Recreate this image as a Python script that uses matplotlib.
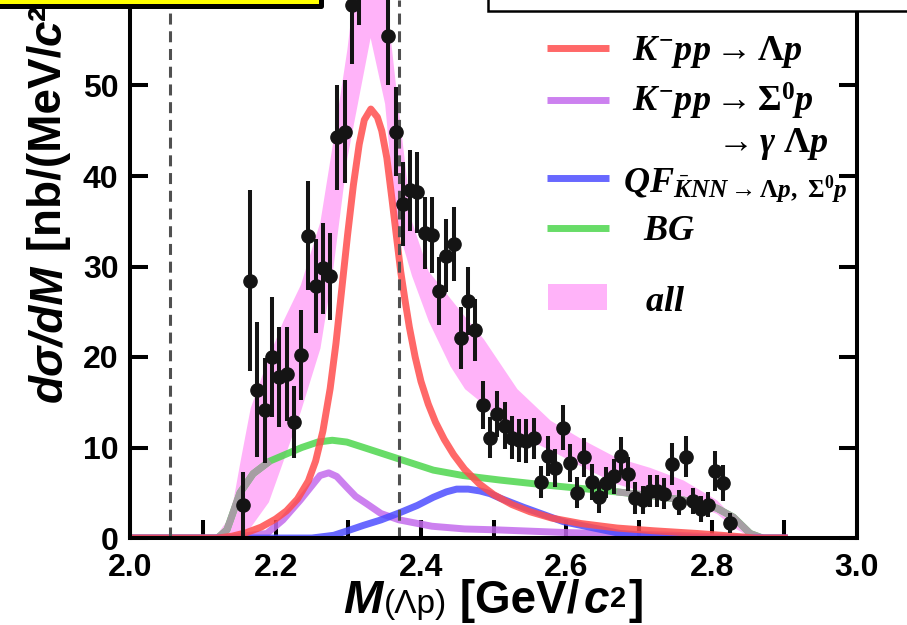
import matplotlib
matplotlib.use("Agg")
import matplotlib.pyplot as plt
import numpy as np
from matplotlib.lines import Line2D
from matplotlib.patches import Rectangle

# ---------------- data ----------------
data_x = [2.155, 2.165, 2.175, 2.185, 2.195, 2.205, 2.215, 2.225, 2.235, 2.245,
          2.255, 2.265, 2.275, 2.285, 2.295, 2.305, 2.315, 2.325, 2.335, 2.345,
          2.355, 2.365, 2.375, 2.385, 2.395, 2.405, 2.415, 2.425, 2.435, 2.445,
          2.455, 2.465, 2.475, 2.485, 2.495, 2.505, 2.515, 2.525, 2.535, 2.545,
          2.555, 2.565, 2.575, 2.585, 2.595, 2.605, 2.615, 2.625, 2.635, 2.645,
          2.655, 2.665, 2.675, 2.685, 2.695, 2.705, 2.715, 2.725, 2.735, 2.745,
          2.755, 2.765, 2.775, 2.785, 2.795, 2.805, 2.815, 2.825]
data_y = [3.7, 28.4, 16.4, 14.1, 20.0, 17.8, 18.1, 12.8, 20.2, 33.4,
          27.8, 29.8, 28.9, 44.3, 44.9, 58.9, 63.2, 68.0, 70.0, 67.0,
          55.5, 44.9, 36.9, 38.4, 38.2, 33.7, 33.5, 27.3, 31.2, 32.5,
          22.1, 26.2, 23.0, 14.7, 11.1, 13.7, 12.4, 11.1, 10.8, 10.7,
          11.0, 6.2, 9.1, 7.7, 12.2, 8.3, 5.0, 8.9, 6.2, 4.5,
          6.1, 6.8, 9.1, 7.1, 4.4, 4.2, 5.2, 5.2, 4.9, 8.2,
          3.9, 9.0, 4.1, 3.2, 3.7, 7.4, 6.1, 1.7]
data_err = [3.6, 10.0, 7.5, 5.8, 6.6, 5.5, 5.2, 4.0, 5.0, 6.0,
            5.2, 5.0, 4.8, 5.8, 5.7, 6.5, 6.5, 6.5, 6.5, 6.3,
            5.5, 4.9, 4.6, 4.5, 4.5, 4.0, 4.2, 3.8, 4.0, 4.1,
            3.4, 3.8, 3.4, 2.7, 2.3, 2.5, 2.6, 2.4, 2.4, 2.4,
            2.3, 1.8, 2.2, 2.1, 2.5, 2.1, 1.7, 2.2, 2.0, 1.7,
            1.7, 1.9, 2.1, 1.9, 1.8, 1.5, 1.8, 1.8, 1.7, 2.3,
            1.4, 2.3, 1.4, 1.4, 1.4, 2.2, 2.0, 1.1]

# K-pp -> Lambda p
red_x = [2.00, 2.12, 2.14, 2.16, 2.18, 2.20, 2.215, 2.23, 2.245, 2.255,
         2.265, 2.275, 2.283, 2.291, 2.299, 2.307, 2.315, 2.322, 2.331, 2.340,
         2.346, 2.353, 2.360, 2.366, 2.372, 2.378, 2.384, 2.392, 2.400, 2.410,
         2.420, 2.432, 2.445, 2.46, 2.48, 2.50, 2.525, 2.55, 2.58, 2.62,
         2.67, 2.72, 2.78, 2.83, 2.86, 2.90]
red_y = [0, 0, 0.2, 0.6, 1.2, 2.1, 3.0, 4.3, 6.3, 8.5,
         11.8, 16.5, 21.5, 27.5, 33.5, 39.0, 43.5, 46.2, 47.4, 46.5,
         45.0, 42.0, 37.5, 33.5, 29.5, 26.3, 23.3, 20.0, 17.3, 14.8,
         12.8, 10.9, 9.2, 7.6, 6.0, 4.8, 3.7, 2.9, 2.2, 1.6,
         1.1, 0.8, 0.5, 0.2, 0, 0]
# K-pp -> Sigma0 p -> gamma Lambda p
purple_x = [2.00, 2.13, 2.188, 2.21, 2.234, 2.252, 2.261, 2.273, 2.284, 2.298,
            2.31, 2.325, 2.345, 2.37, 2.415, 2.46, 2.504, 2.60, 2.75, 2.85, 2.90]
purple_y = [0, 0, 0.5, 2.0, 4.2, 6.0, 6.9, 7.2, 6.8, 5.6,
            4.6, 3.8, 2.7, 2.0, 1.3, 1.0, 0.9, 0.6, 0.3, 0.0, 0]
# QF KbarNN -> Lambda p, Sigma0 p
blue_x = [2.00, 2.25, 2.28, 2.299, 2.321, 2.345, 2.371, 2.395, 2.417, 2.435,
          2.449, 2.465, 2.481, 2.495, 2.509, 2.541, 2.596, 2.674, 2.72, 2.80, 2.90]
blue_y = [0, 0, 0.3, 0.8, 1.4, 2.0, 2.8, 3.6, 4.5, 5.1,
          5.4, 5.4, 5.2, 4.9, 4.4, 3.4, 1.8, 0.5, 0.2, 0, 0]
# BG
green_x = [2.00, 2.12, 2.133, 2.151, 2.169, 2.192, 2.236, 2.258, 2.278, 2.298,
           2.325, 2.371, 2.417, 2.458, 2.509, 2.578, 2.669, 2.715, 2.761, 2.807,
           2.830, 2.853, 2.87, 2.90]
green_y = [0, 0, 0.9, 5.0, 7.1, 8.5, 10.0, 10.6, 10.8, 10.6,
           9.9, 8.7, 7.5, 6.9, 6.4, 5.8, 5.1, 4.7, 4.2, 3.3,
           2.3, 0.5, 0, 0]
# all (band)
band_x = [2.115, 2.133, 2.142, 2.151, 2.165, 2.19, 2.21, 2.234, 2.261, 2.279,
          2.298, 2.31, 2.33, 2.35, 2.365, 2.387, 2.41, 2.44, 2.46, 2.486,
          2.532, 2.578, 2.624, 2.669, 2.715, 2.761, 2.807, 2.83, 2.855]
band_hi = [0, 2.0, 4.5, 8.5, 14.4, 20, 24, 28, 35, 44,
           54, 62, 66, 61, 50, 35, 29.5, 26.5, 24.5, 22,
           16.5, 13, 10.8, 8.9, 7.8, 6.4, 4.2, 2.3, 0]
band_lo = [0, 0, 0, 0.3, 1.2, 4.0, 8.5, 14, 21, 30,
           42, 47, 55.3, 48, 35, 29, 24, 19, 16.5, 14.8,
           11.5, 9.7, 7.8, 6.0, 4.9, 4.2, 2.7, 1.2, 0]
thresholds = [2.054, 2.370]

x_ticks = [2.0, 2.2, 2.4, 2.6, 2.8, 3.0]
x_minor = [2.1, 2.3, 2.5, 2.7, 2.9]
y_ticks = [0, 10, 20, 30, 40, 50]

# ---------------- style ----------------
plt.rcParams['mathtext.fontset'] = 'custom'
plt.rcParams['mathtext.rm'] = 'Liberation Serif:bold'
plt.rcParams['mathtext.it'] = 'Liberation Serif:italic:bold'
plt.rcParams['mathtext.bf'] = 'Liberation Serif:bold'

W, H = 907, 625
fig = plt.figure(figsize=(W / 100, H / 100), dpi=100)

def fx(px):
    return px / W

def fy(py):
    return 1 - py / H

ax = fig.add_axes([fx(130.3), fy(538), (857 - 130.3) / W, 538 / H])
ax.set_xlim(2.0, 3.0)
ax.set_ylim(0, 538 / 9.05)

C_RED = (1.0, 0.30, 0.30)
C_PUR = (0.77, 0.42, 0.93)
C_BLU = (0.30, 0.30, 1.0)
C_GRN = (0.30, 0.84, 0.30)
C_PINK = '#ffb3f9'
C_GRAY = '#a59ea3'
LW = 5.0
A = 0.85

ax.fill_between(band_x, band_lo, band_hi, color=C_PINK, lw=0, zorder=1)

gx = np.array(green_x)
gy = np.array(green_y)
ax.plot(gx, gy, color=C_GRN, lw=LW, alpha=A, zorder=2, solid_capstyle='butt')
m1 = (gx >= 2.12) & (gx <= 2.20)
m2 = (gx >= 2.669) & (gx <= 2.87)
ax.plot(gx[m1], gy[m1], color=C_GRAY, lw=LW, zorder=2.1, solid_capstyle='butt')
ax.plot(gx[m2], gy[m2], color=C_GRAY, lw=LW, zorder=2.1, solid_capstyle='butt')
ax.plot(purple_x, purple_y, color=C_PUR, lw=LW, alpha=A, zorder=2.2)
ax.plot(blue_x, blue_y, color=C_BLU, lw=LW, alpha=A, zorder=2.3)
ax.plot(red_x, red_y, color=C_RED, lw=LW, alpha=A, zorder=2.4)

for t in thresholds:
    ax.axvline(t, color='#505050', lw=2.2, linestyle=(0, (3.6, 2.2)), zorder=3)

ax.errorbar(data_x, data_y, yerr=data_err, fmt='o', color='#141414', ms=9.5,
            elinewidth=2.9, capsize=0, zorder=5)

# axes styling
for s in ['left', 'right', 'bottom']:
    ax.spines[s].set_linewidth(2.9)
    ax.spines[s].set_zorder(6)
ax.spines['top'].set_visible(False)
ax.set_xticks(x_ticks)
ax.set_xticks(x_minor, minor=True)
ax.set_xticklabels([f"{v:.1f}" for v in x_ticks])
ax.set_yticks(y_ticks)
ax.set_yticklabels([str(v) for v in y_ticks])
ax.tick_params(axis='x', which='both', direction='in', length=13, width=2.9,
               top=False, pad=11)
ax.tick_params(axis='y', which='both', direction='in', length=13, width=2.9,
               right=True, labelright=False, pad=8.5)
for lab in ax.get_xticklabels() + ax.get_yticklabels():
    lab.set_fontfamily('Liberation Sans')
    lab.set_fontweight('bold')
    lab.set_fontsize(23)

# x label (chained pieces)
lab_kw = dict(family='Liberation Sans', fontweight='bold')
XFS = 33
t1 = fig.text(fx(343), fy(623), 'M', fontsize=XFS + 1, fontstyle='italic',
              va='bottom', ha='left', **lab_kw)
t2 = ax.annotate('(Λp)', xy=(1, 0), xycoords=t1, xytext=(1, 1.8),
                 textcoords='offset points', fontsize=24, va='bottom', ha='left',
                 family='Liberation Sans')
t3 = ax.annotate(' [GeV/', xy=(1, 0), xycoords=t2, xytext=(0, -1.8),
                 textcoords='offset points', fontsize=XFS, va='bottom', ha='left',
                 **lab_kw)
t4 = ax.annotate('c', xy=(1, 0), xycoords=t3, xytext=(3, 0),
                 textcoords='offset points', fontsize=XFS, fontstyle='italic',
                 va='bottom', ha='left', **lab_kw)
t5 = ax.annotate('2', xy=(1, 1), xycoords=t4, xytext=(0.5, -4),
                 textcoords='offset points', fontsize=21, va='top', ha='left',
                 **lab_kw)
t6 = ax.annotate(']', xy=(1, 0), xycoords=t4, xytext=(14, 0),
                 textcoords='offset points', fontsize=XFS, va='bottom', ha='left',
                 **lab_kw)

# y label (chained, rotated; cropped at the top like the reference)
YFS = 33
y1 = fig.text(fx(49), fy(402), 'dσ/dM', fontsize=YFS, fontstyle='italic',
              rotation=90, va='bottom', ha='center', **lab_kw)
y2 = ax.annotate(' [nb/(MeV/', xy=(0.5, 1), xycoords=y1, fontsize=YFS,
                 rotation=90, va='bottom', ha='center', **lab_kw)
y3 = ax.annotate('c', xy=(0.5, 1), xycoords=y2, fontsize=YFS, fontstyle='italic',
                 rotation=90, va='bottom', ha='center', **lab_kw)
y4 = ax.annotate('²)]', xy=(0.5, 1), xycoords=y3, fontsize=YFS,
                 rotation=90, va='bottom', ha='center', **lab_kw)

# legend (drawn by hand)
def leg_line(py, color):
    fig.add_artist(Line2D([fx(547), fx(609)], [fy(py), fy(py)], color=color,
                          lw=LW, alpha=A, solid_capstyle='butt'))

leg_line(48, C_RED)
leg_line(100, C_PUR)
leg_line(178, C_BLU)
leg_line(228, C_GRN)
fig.add_artist(Rectangle((fx(548), fy(310)), fx(607) - fx(548), fy(284) - fy(310),
                         transform=fig.transFigure, facecolor=C_PINK, lw=0))

LFS = 26
fig.text(fx(632), fy(60), r'$K^{-}pp\rightarrow\Lambda p$', fontsize=LFS,
         va='baseline', ha='left')
fig.text(fx(632), fy(112), r'$K^{-}pp\rightarrow\Sigma^{0}p$', fontsize=LFS,
         va='baseline', ha='left')
fig.text(fx(712), fy(152), r'$\rightarrow\gamma\ \Lambda p$', fontsize=LFS,
         va='baseline', ha='left')
fig.text(fx(623), fy(192), r'$QF_{\bar{K}NN\rightarrow\Lambda p,\ \Sigma^{0}p}$',
         fontsize=LFS, va='baseline', ha='left')
fig.text(fx(643), fy(240), r'$BG$', fontsize=LFS, va='baseline', ha='left')
fig.text(fx(645), fy(311), r'$all$', fontsize=LFS, va='baseline', ha='left')

# cropped boxes at the top
fig.add_artist(Rectangle((fx(-20), fy(5.5)), fx(340.5), 40 / H,
                         transform=fig.transFigure, facecolor='#ffff00',
                         edgecolor='black', lw=3.6, joinstyle='round'))
fig.add_artist(Rectangle((fx(488), fy(10.5)), fx(500), 40 / H,
                         transform=fig.transFigure, facecolor='white',
                         edgecolor='black', lw=1.8))

fig.savefig('out.png', dpi=100)
